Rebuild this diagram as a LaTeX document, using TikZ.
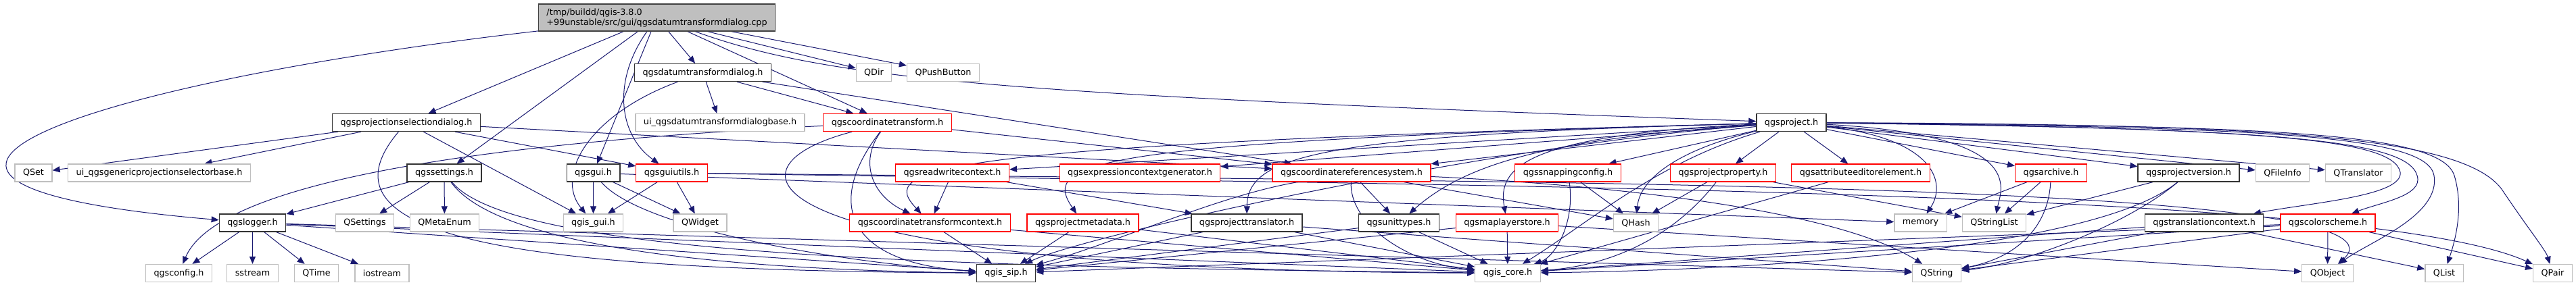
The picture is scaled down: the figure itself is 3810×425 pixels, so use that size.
\documentclass[tikz,border=0pt]{standalone}
\usepackage{fontspec}
\setmainfont{DejaVu Sans}
\usetikzlibrary{arrows.meta,backgrounds}
\definecolor{edgeblue}{RGB}{25,25,112}
\definecolor{boxgray}{RGB}{191,191,191}
\tikzset{
  srcfile/.style={draw=black!75, fill=boxgray, line width=1.3pt, align=left, minimum height=40pt, inner xsep=12pt, inner ysep=3pt, font=\fontsize{12.75}{15}\selectfont},
  header/.style={draw=black!80, fill=white, line width=1.3pt, minimum height=26pt, inner xsep=12pt, inner ysep=0pt, font=\fontsize{12.75}{15}\selectfont},
  cutheader/.style={header, draw=red},
  sysheader/.style={header, draw=boxgray},
  incl/.style={-{Triangle[length=11pt,width=9pt]}, line width=1pt, edgeblue}
}
\begin{document}
\begin{tikzpicture}[x=1pt,y=1pt]
  \useasboundingbox (0,0) rectangle (3810,-425);
  % source file
  \node[srcfile] (root) at (971.5,-26) {/tmp/buildd/qgis-3.8.0\\+99unstable/src/gui/qgsdatumtransformdialog.cpp};
  % second row
  \node[header] (datumdlg) at (1039.5,-107.5) {qgsdatumtransformdialog.h};
  \node[sysheader] (QDir) at (1292.5,-107.5) {QDir};
  \node[sysheader] (QPushButton) at (1395,-107.5) {QPushButton};
  % third row
  \node[header] (projsel) at (601,-181.5) {qgsprojectionselectiondialog.h};
  \node[sysheader] (uidatum) at (1065,-181.5) {ui\_qgsdatumtransformdialogbase.h};
  \node[cutheader] (coordtr) at (1312.5,-181.5) {qgscoordinatetransform.h};
  \node[header] (project) at (2649.5,-181.5) {qgsproject.h};
  % fourth row
  \node[sysheader] (QSet) at (49.5,-256) {QSet};
  \node[sysheader] (uigeneric) at (235.5,-256) {ui\_qgsgenericprojectionselectorbase.h};
  \node[header] (settings) at (657,-256) {qgssettings.h};
  \node[header] (gui) at (877.5,-256) {qgsgui.h};
  \node[cutheader] (guiutils) at (993.5,-256) {qgsguiutils.h};
  \node[cutheader] (readwrite) at (1408.5,-256) {qgsreadwritecontext.h};
  \node[cutheader] (exprgen) at (1686,-256) {qgsexpressioncontextgenerator.h};
  \node[cutheader] (crs) at (1999,-256) {qgscoordinatereferencesystem.h};
  \node[cutheader] (snapping) at (2319,-256) {qgssnappingconfig.h};
  \node[cutheader] (projprop) at (2548.5,-256) {qgsprojectproperty.h};
  \node[cutheader] (attreditor) at (2752,-256) {qgsattributeeditorelement.h};
  \node[cutheader] (archive) at (3033.5,-256) {qgsarchive.h};
  \node[header] (projversion) at (3237,-256) {qgsprojectversion.h};
  \node[sysheader] (QFileInfo) at (3376,-256) {QFileInfo};
  \node[sysheader] (QTranslator) at (3488,-256) {QTranslator};
  % fifth row
  \node[header] (logger) at (373.5,-330) {qgslogger.h};
  \node[sysheader] (QSettings) at (539.5,-330) {QSettings};
  \node[sysheader] (QMetaEnum) at (657.5,-330) {QMetaEnum};
  \node[sysheader] (qgisgui) at (877.5,-330) {qgis\_gui.h};
  \node[sysheader] (QWidget) at (1035.5,-330) {QWidget};
  \node[cutheader] (ctcontext) at (1375.5,-330) {qgscoordinatetransformcontext.h};
  \node[cutheader] (metadata) at (1601.5,-330) {qgsprojectmetadata.h};
  \node[header] (translator) at (1844,-330) {qgsprojecttranslator.h};
  \node[header] (unittypes) at (2069,-330) {qgsunittypes.h};
  \node[cutheader] (maplayerstore) at (2229,-330) {qgsmaplayerstore.h};
  \node[sysheader] (QHash) at (2419.5,-330) {QHash};
  \node[sysheader] (memory) at (2840.5,-330) {memory};
  \node[sysheader] (QStringList) at (2949.5,-330) {QStringList};
  \node[header] (transctx) at (3260,-330) {qgstranslationcontext.h};
  \node[cutheader] (colorscheme) at (3443,-330) {qgscolorscheme.h};
  % bottom row
  \node[sysheader] (qgsconfig) at (264.5,-404.5) {qgsconfig.h};
  \node[sysheader] (sstream) at (373.5,-404.5) {sstream};
  \node[sysheader] (QTime) at (468,-404.5) {QTime};
  \node[sysheader] (iostream) at (565,-404.5) {iostream};
  \node[header] (qgissip) at (1488,-404.5) {qgis\_sip.h};
  \node[sysheader] (qgiscore) at (2230,-404.5) {qgis\_core.h};
  \node[sysheader] (QString) at (2864.5,-404.5) {QString};
  \node[sysheader] (QObject) at (3442.5,-404.5) {QObject};
  \node[sysheader] (QList) at (3615,-404.5) {QList};
  \node[sysheader] (QPair) at (3775.5,-404.5) {QPair};

  \begin{scope}[on background layer]
  % includes of the source file
  \draw[incl] (root)--(projsel); \draw[incl] (root)--(settings); \draw[incl] (root)--(gui);
  \draw[incl] (root)--(datumdlg); \draw[incl] (root)--(coordtr);
  \draw[incl] ([xshift=75pt]root.south)--(QDir); \draw[incl] ([xshift=110pt]root.south)--(QPushButton);
  \draw[incl] (root) .. controls (905,-120) and (915,-200) .. (guiutils);
  \draw[incl] (root) .. controls (150,-120) and (-330,-270) .. (logger);
  \draw[incl] (root) .. controls (1230,-120) and (1500,-140) .. (project);
  % dialogs
  \draw[incl] (datumdlg)--(uidatum); \draw[incl] (datumdlg)--(coordtr); \draw[incl] (datumdlg)--(crs);
  \draw[incl] (datumdlg) .. controls (870,-170) and (820,-260) .. (qgisgui);
  \draw[incl] (projsel)--(QSet); \draw[incl] (projsel)--(uigeneric); \draw[incl] (projsel)--(qgisgui);
  \draw[incl] (projsel)--(guiutils); \draw[incl] (projsel)--(crs);
  \draw[incl] (projsel) .. controls (450,-360) and (800,-400) .. (qgissip);
  % gui side
  \draw[incl] (settings)--(logger); \draw[incl] (settings)--(QSettings); \draw[incl] (settings)--(QMetaEnum);
  \draw[incl] (settings) .. controls (740,-370) and (1100,-400) .. (qgissip);
  \draw[incl] (settings) .. controls (760,-380) and (1400,-395) .. (qgiscore);
  \draw[incl] (gui)--(qgisgui); \draw[incl] (gui)--(QWidget); \draw[incl] (gui)--(memory);
  \draw[incl] (gui) .. controls (950,-340) and (1250,-390) .. (qgissip);
  \draw[incl] (guiutils)--(qgisgui); \draw[incl] (guiutils)--(QWidget);
  \draw[incl] (guiutils) .. controls (2200,-275) and (3500,-280) .. (QPair);
  \draw[incl] (guiutils) .. controls (2200,-270) and (3600,-265) .. (QObject);
  \draw[incl] (logger)--(qgsconfig); \draw[incl] (logger)--(sstream); \draw[incl] (logger)--(QTime); \draw[incl] (logger)--(iostream);
  \draw[incl] (logger)--(qgissip); \draw[incl] (logger)--(qgiscore); \draw[incl] (logger)--(QString);
  % coordinate transform
  \draw[incl] (coordtr)--(crs);
  \draw[incl] (coordtr) .. controls (850,-205) and (330,-250) .. (qgsconfig);
  \draw[incl] (coordtr) .. controls (1270,-240) and (1290,-290) .. (ctcontext);
  \draw[incl] (coordtr) .. controls (1220,-300) and (1250,-390) .. (qgissip);
  \draw[incl] (coordtr) .. controls (1050,-250) and (1100,-400) .. (qgiscore);
  % project
  \draw[incl] (project)--(readwrite); \draw[incl] (project)--(exprgen); \draw[incl] (project)--(crs);
  \draw[incl] (project)--(snapping); \draw[incl] (project)--(projprop); \draw[incl] (project)--(attreditor);
  \draw[incl] (project)--(archive); \draw[incl] (project)--(projversion); \draw[incl] (project)--(QFileInfo); \draw[incl] (project)--(QTranslator);
  \draw[incl] (project) .. controls (2470,-225) and (2425,-270) .. (QHash);
  \draw[incl] (project) .. controls (2250,-200) and (2215,-250) .. (maplayerstore);
  \draw[incl] (project) .. controls (2300,-205) and (2170,-240) .. (unittypes);
  \draw[incl] (project) .. controls (1950,-200) and (1845,-230) .. (translator);
  \draw[incl] (project) .. controls (1600,-210) and (1540,-240) .. (metadata);
  \draw[incl] (project) .. controls (1350,-215) and (1300,-250) .. (ctcontext);
  \draw[incl] (project) .. controls (2200,-215) and (1600,-350) .. (qgissip);
  \draw[incl] (project) .. controls (2450,-240) and (2350,-330) .. (qgiscore);
  \draw[incl] (project) .. controls (2860,-205) and (2880,-270) .. (memory);
  \draw[incl] (project) .. controls (3000,-200) and (2960,-280) .. (QStringList);
  \draw[incl] (project) .. controls (3350,-190) and (3540,-205) .. (3550,-255) .. controls (3555,-290) and (3420,-300) .. (transctx);
  \draw[incl] (project) .. controls (3350,-190) and (3560,-205) .. (3575,-260) .. controls (3585,-290) and (3520,-300) .. (colorscheme);
  \draw[incl] (project) .. controls (3350,-188) and (3590,-200) .. (3600,-260) .. controls (3610,-320) and (3500,-360) .. (QObject);
  \draw[incl] (project) .. controls (3350,-186) and (3610,-195) .. (3630,-260) .. controls (3645,-310) and (3630,-360) .. (QList);
  \draw[incl] (project) .. controls (3350,-184) and (3640,-200) .. (3700,-280) .. controls (3740,-340) and (3765,-370) .. (QPair);
  % project parts
  \draw[incl] (readwrite)--(ctcontext); \draw[incl] (readwrite)--(translator);
  \draw[incl] (crs)--(unittypes); \draw[incl] (crs)--(QHash);
  \draw[incl] (crs) .. controls (1800,-290) and (1650,-360) .. (qgissip);
  \draw[incl] (crs) .. controls (1995,-330) and (2080,-390) .. (qgiscore);
  \draw[incl] (crs) .. controls (2300,-270) and (2700,-300) .. (QString);
  \draw[incl] (snapping)--(QHash);
  \draw[incl] (snapping) .. controls (2330,-330) and (2300,-380) .. (qgiscore);
  \draw[incl] (projprop)--(QHash); \draw[incl] (projprop)--(QStringList);
  \draw[incl] (projprop) .. controls (2500,-320) and (2420,-390) .. (qgiscore);
  \draw[incl] (attreditor)--(qgiscore);
  \draw[incl] (archive)--(memory); \draw[incl] (archive)--(QStringList);
  \draw[incl] (archive) .. controls (3030,-330) and (2990,-380) .. (QString);
  \draw[incl] (projversion)--(QStringList);
  \draw[incl] (projversion) .. controls (3150,-330) and (3000,-390) .. (QString);
  \draw[incl] (projversion) .. controls (3100,-370) and (2600,-400) .. (qgiscore);
  \draw[incl] (ctcontext)--(qgissip); \draw[incl] (ctcontext)--(qgiscore);
  \draw[incl] (metadata)--(qgissip); \draw[incl] (metadata)--(qgiscore);
  \draw[incl] (translator)--(qgissip); \draw[incl] (translator)--(qgiscore); \draw[incl] (translator)--(QString);
  \draw[incl] (unittypes)--(qgissip); \draw[incl] (unittypes)--(qgiscore);
  \draw[incl] (maplayerstore)--(qgissip); \draw[incl] (maplayerstore)--(qgiscore); \draw[incl] (maplayerstore)--(QObject);
  \draw[incl] (transctx)--(qgiscore); \draw[incl] (transctx)--(QString); \draw[incl] (transctx)--(QList);
  \draw[incl] (colorscheme)--(QObject); \draw[incl] (colorscheme)--(QPair); \draw[incl] (colorscheme)--(QString);
  \draw[incl] (colorscheme)--(qgiscore); \draw[incl] (colorscheme)--(qgissip);
  \end{scope}
\end{tikzpicture}
\end{document}
